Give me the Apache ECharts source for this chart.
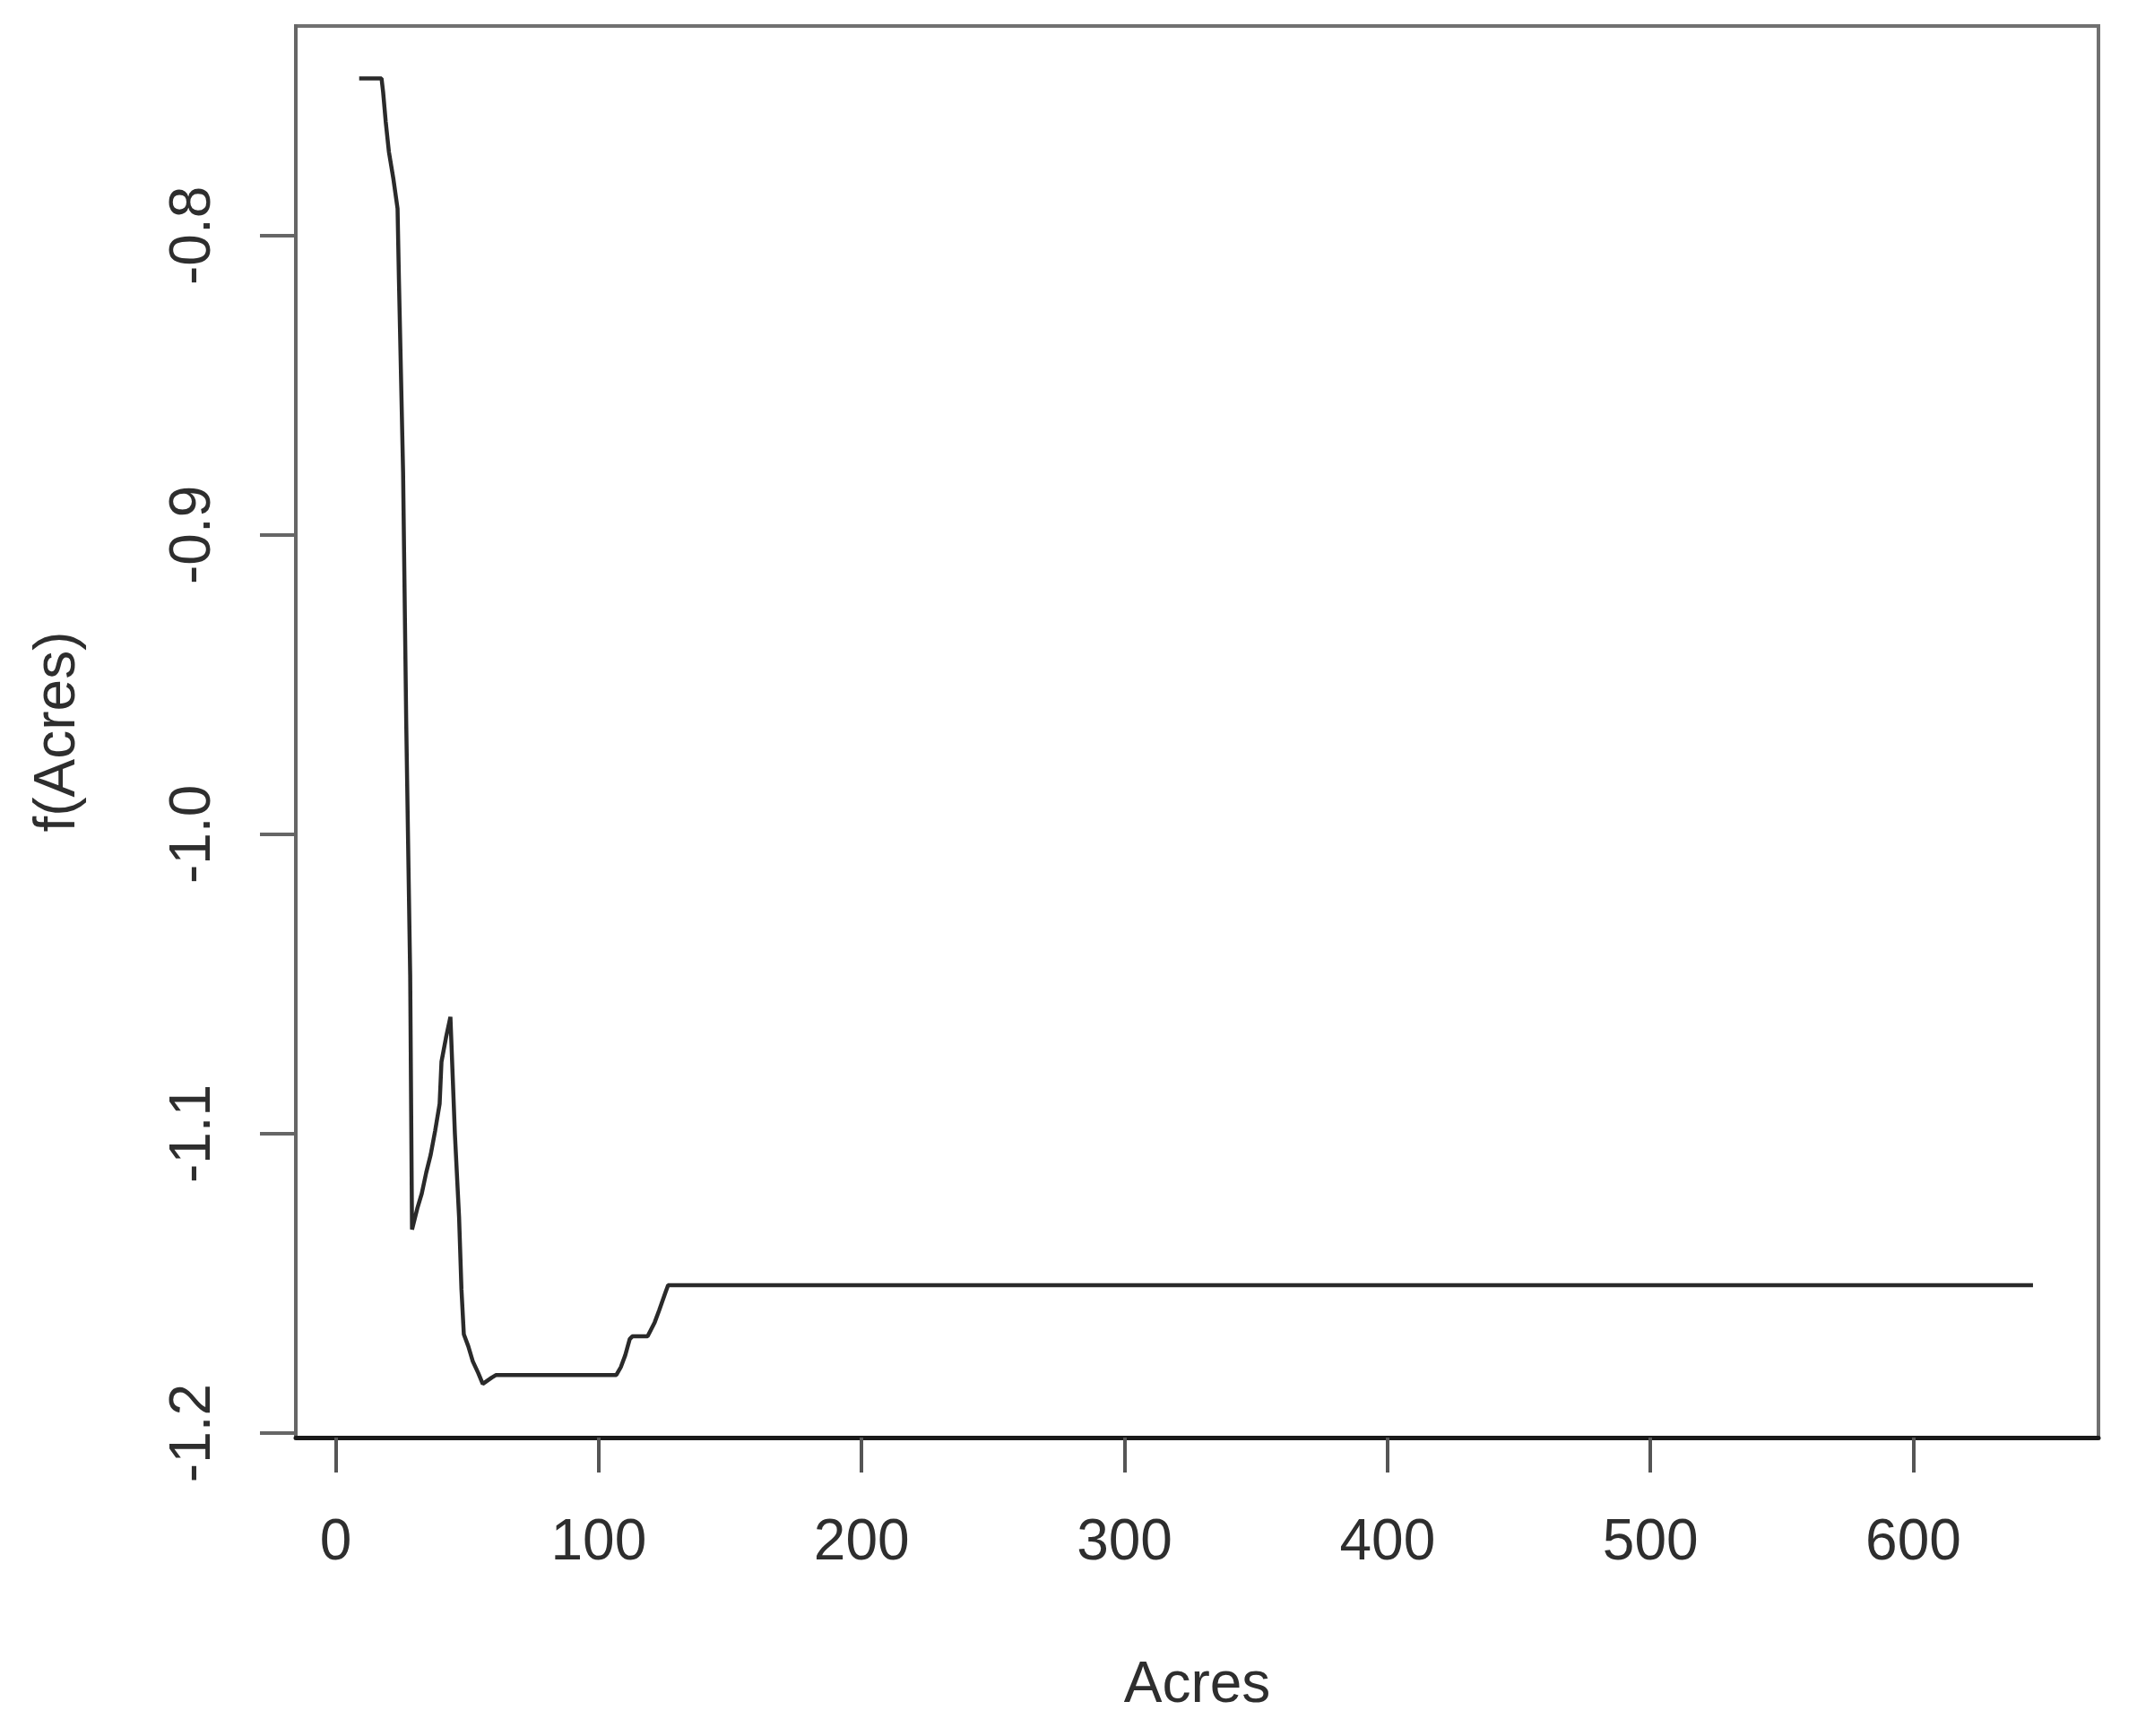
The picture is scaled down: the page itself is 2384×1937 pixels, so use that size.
<!DOCTYPE html>
<html>
<head>
<meta charset="utf-8">
<script src="https://cdn.jsdelivr.net/npm/echarts@6/dist/echarts.min.js"></script>
<style>
html,body{margin:0;padding:0;background:#fff;}
#chart{width:2384px;height:1937px;}
</style>
</head>
<body>
<div id="chart"></div>
<script>
// Data
var acres = [8.9, 17.4, 18.0, 19.0, 20.2, 21.9, 23.5, 24.0, 25.6, 26.8, 28.3, 29.0,
  31.0, 32.7, 34.4, 36.1, 37.8, 39.5, 40.2, 41.9, 43.6,
  45.3, 46.9, 47.8, 48.7, 50.4, 52.1, 54.2, 55.9, 59.3, 61.0,
  106.7, 108.4, 110.1, 111.8, 112.8, 118.6, 121.3, 123.0, 125.4, 126.4, 645.5];
var fAcres = [-0.7475, -0.7475, -0.752, -0.762, -0.772, -0.781, -0.791, -0.814, -0.879, -0.963, -1.047, -1.132,
  -1.125, -1.120, -1.113, -1.107, -1.099, -1.090, -1.076, -1.068, -1.061,
  -1.100, -1.128, -1.152, -1.167, -1.171, -1.176, -1.180, -1.1836, -1.1815, -1.1806,
  -1.1806, -1.178, -1.174, -1.1686, -1.1677, -1.1677, -1.163, -1.159, -1.153, -1.1506, -1.1506];
var xTicks = [0, 100, 200, 300, 400, 500, 600];
var yTicks = [-1.2, -1.1, -1.0, -0.9, -0.8];
var xTitle = 'Acres';
var yTitle = 'f(Acres)';

var points = acres.map(function (a, i) { return [a, fAcres[i]]; });
var FONT = '"Liberation Sans", Arial, sans-serif';
var TXT = '#2e2e2e';

var chart = echarts.init(document.getElementById('chart'), null, {renderer: 'canvas'});
chart.setOption({
  animation: false,
  backgroundColor: '#ffffff',
  grid: {
    left: 330, right: 43, top: 29, bottom: 333,
    show: true, borderColor: '#707070', borderWidth: 4, backgroundColor: 'transparent'
  },
  xAxis: {
    type: 'value',
    min: -15.2, max: 670.4,
    name: xTitle, nameLocation: 'middle', nameGap: 245,
    nameTextStyle: {fontFamily: FONT, fontSize: 64, color: TXT},
    splitLine: {show: false},
    axisLine: {show: true, onZero: false, lineStyle: {color: '#1a1a1a', width: 5}},
    axisTick: {show: true, length: 39, lineStyle: {color: '#555', width: 4}, customValues: xTicks},
    axisLabel: {show: true, margin: 86, fontFamily: FONT, fontSize: 64, color: TXT,
      customValues: xTicks, formatter: function (v) { return String(v); }}
  },
  yAxis: {
    type: 'value',
    min: -1.2015, max: -0.7300,
    name: yTitle, nameLocation: 'middle', nameGap: 233, nameRotate: 90,
    nameTextStyle: {fontFamily: FONT, fontSize: 64, color: TXT},
    splitLine: {show: false},
    axisLine: {show: true, onZero: false, lineStyle: {color: '#666', width: 4}},
    axisTick: {show: true, length: 40, lineStyle: {color: '#666', width: 4}, customValues: yTicks},
    axisLabel: {show: true, margin: 82, rotate: 90, fontFamily: FONT, fontSize: 64, color: TXT,
      customValues: yTicks, formatter: function (v) { return v.toFixed(1); }}
  },
  series: [{
    type: 'line',
    data: points,
    showSymbol: false,
    symbol: 'none',
    lineStyle: {color: '#2a2a2a', width: 4.5},
    clip: true
  }]
});
</script>
</body>
</html>
